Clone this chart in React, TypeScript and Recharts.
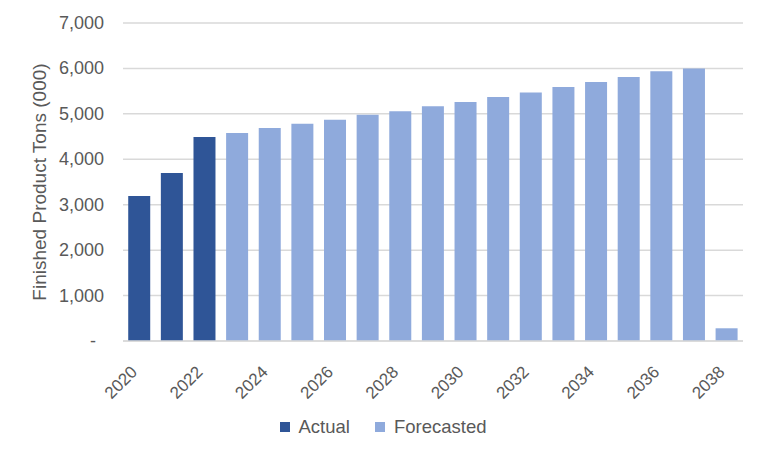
import React from 'react';
import { BarChart, Bar, XAxis, YAxis, CartesianGrid } from 'recharts';

const years = ['2020', '2021', '2022', '2023', '2024', '2025', '2026', '2027', '2028', '2029',
    '2030', '2031', '2032', '2033', '2034', '2035', '2036', '2037', '2038'];
const actual = [3190, 3700, 4490, null, null, null, null, null, null, null,
    null, null, null, null, null, null, null, null, null];
const forecasted = [null, null, null, 4580, 4690, 4780, 4870, 4980, 5060, 5170,
    5260, 5370, 5470, 5590, 5700, 5810, 5940, 6000, 280];
const yTicks = [0, 1000, 2000, 3000, 4000, 5000, 6000, 7000];
const seriesNames = ['Actual', 'Forecasted'];

const ACTUAL_COLOR = '#2F5597';
const FORECAST_COLOR = '#8FAADC';
const TEXT = '#595959';
const FONT = '"Liberation Sans", Arial, sans-serif';

const data = years.map((year, i) => ({ year, actual: actual[i], forecasted: forecasted[i] }));

// excel accounting style: zero shows as a dash, set in from the numbers
const YTick = (props: any) => {
    const { x, y, payload } = props;
    const v = payload.value;
    return (
        <text x={v === 0 ? x - 19 : x - 11} y={y} dy={6} textAnchor="end" fill={TEXT} fontSize={18} fontFamily={FONT}>
            {v === 0 ? '-' : v.toLocaleString('en-US')}
        </text>
    );
};

const XTick = (props: any) => {
    const { x, y, payload } = props;
    return (
        <g transform={`translate(${x - 1},${y + 24})`}>
            <text textAnchor="end" transform="rotate(-45)" fill={TEXT} fontSize={17} fontFamily={FONT}>
                {payload.value}
            </text>
        </g>
    );
};

const App = () => (
    <div style={{ position: 'absolute', left: 0, top: 0, width: 766, height: 456, background: '#fff' }}>
        <BarChart width={766} height={456} data={data} barCategoryGap="16%"
            margin={{ top: 23, right: 23, bottom: 0, left: 0 }}>
            <CartesianGrid vertical={false} stroke="#d9d9d9" strokeWidth={1.5} />
            <XAxis dataKey="year" interval={1} tickLine={false} axisLine={{ stroke: '#d9d9d9', strokeWidth: 1.5 }}
                height={115} tick={<XTick />} />
            <YAxis domain={[0, 7000]} ticks={yTicks} width={123} tickLine={false} axisLine={false}
                tick={<YTick />}
                label={{ value: 'Finished Product Tons (000)', angle: -90, position: 'insideLeft', dx: 34, dy: 0,
                    style: { fill: TEXT, fontSize: 19, fontFamily: FONT, textAnchor: 'middle' } }} />
            <Bar dataKey="actual" name={seriesNames[0]} stackId="a" fill={ACTUAL_COLOR} isAnimationActive={false} />
            <Bar dataKey="forecasted" name={seriesNames[1]} stackId="a" fill={FORECAST_COLOR} isAnimationActive={false} />
        </BarChart>
        <div style={{ position: 'absolute', top: 416, left: 0, width: 766, display: 'flex', justifyContent: 'center',
            fontFamily: FONT, fontSize: 18.5, color: TEXT, lineHeight: '22px' }}>
            {seriesNames.map((name, i) => (
                <div key={name} style={{ display: 'flex', alignItems: 'center', marginLeft: i ? 25 : 0 }}>
                    <span style={{ width: 10, height: 10, background: i ? FORECAST_COLOR : ACTUAL_COLOR, marginRight: 9 }} />
                    <span>{name}</span>
                </div>
            ))}
        </div>
    </div>
);

export default App;
